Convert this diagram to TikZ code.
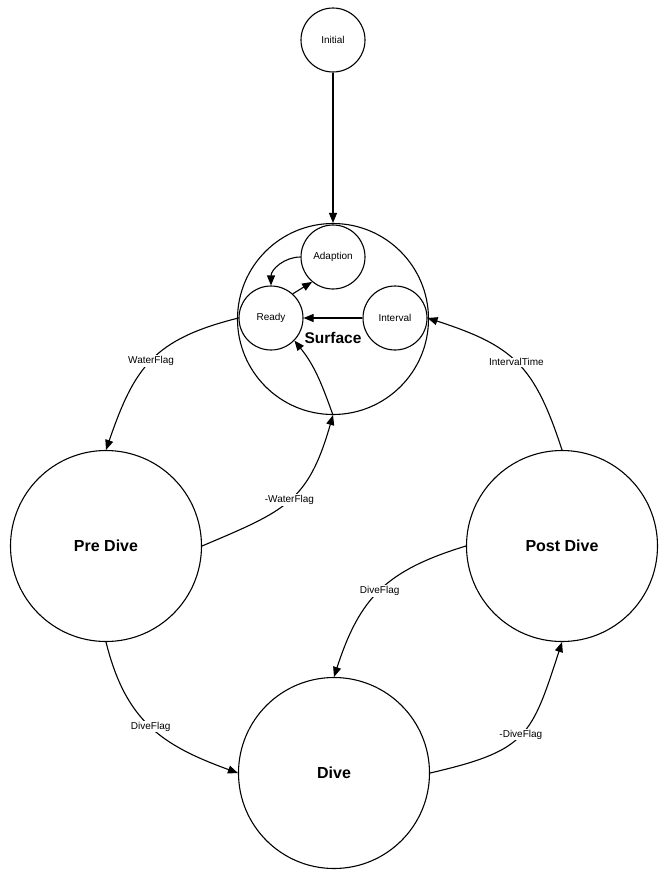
\documentclass[tikz,border=0pt]{standalone}
\usepackage{fontspec}
\setmainfont{Liberation Sans}
\usetikzlibrary{arrows.meta}

\begin{document}
\begin{tikzpicture}[x=1pt,y=-1pt,line width=1.1pt,>={Triangle[length=10pt,width=8pt]},
  state/.style={draw,circle,inner sep=0pt,minimum size=64pt,font=\fontsize{10}{12}\selectfont},
  bigstate/.style={draw,circle,inner sep=0pt,minimum size=191pt,font=\fontsize{16}{19}\selectfont\bfseries},
  lbl/.style={fill=white,inner sep=1pt,font=\fontsize{10}{12}\selectfont}]
\useasboundingbox (0,0) rectangle (668,884);
\node[state] (initial) at (333,40) {Initial};
\node[bigstate] (surface) at (333,319) {};
\node[font=\fontsize{15.5}{18}\selectfont\bfseries] (surfacelabel) at (333,338) {Surface};
\node[state] (adaption) at (333,257) {Adaption};
\node[state] (ready) at (271,318) {Ready};
\node[state] (interval) at (395,318) {Interval};
\node[bigstate] (predive) at (106,546) {Pre Dive};
\node[bigstate] (postdive) at (562,546) {Post Dive};
\node[bigstate] (dive) at (334,773) {Dive};
\draw[->] (initial) -- (surface);
\draw[->] (adaption.west) to[out=180,in=90] (ready.north);
\draw[->] (ready.48) -- (adaption.230);
\draw[->] (interval) -- (ready);
\draw[->] (ready.west) to[out=194,in=71,looseness=1.2] node[lbl]{WaterFlag} (predive.north);
\draw[->] (predive.east) to[out=23,in=-106,looseness=1.25] node[lbl]{-WaterFlag} (surface.south);
\draw[->] (surface.south) to[out=110,in=-51] (ready.-44);
\draw[->] (postdive.north) to[out=108,in=-18,looseness=1.22] node[lbl]{IntervalTime} (interval.east);
\draw[->] (postdive.west) to[out=197,in=72,looseness=1.15] node[lbl]{DiveFlag} (dive.north);
\draw[->] (dive.east) to[out=13,in=-108,looseness=1.37] node[lbl]{-DiveFlag} (postdive.south);
\draw[->] (predive.south) to[out=-76,in=160,looseness=1.12] node[lbl]{DiveFlag} (dive.west);
\end{tikzpicture}
\end{document}
